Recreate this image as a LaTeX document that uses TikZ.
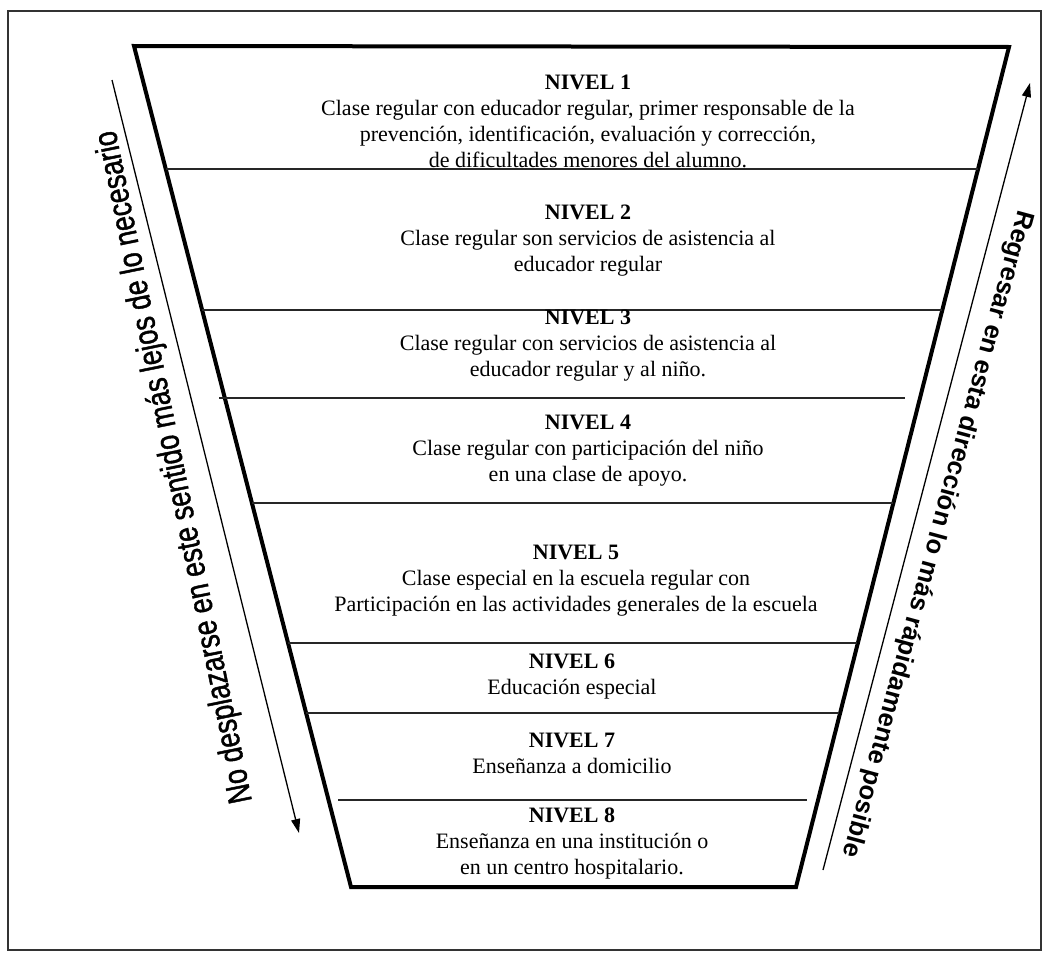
\documentclass[tikz,border=0pt]{standalone}
\usepackage{fontspec}
\setmainfont{Liberation Serif}
\newfontfamily\narrowsans[FakeStretch=0.8,FakeBold=1.2]{Liberation Sans}
\newfontfamily\plainsans{Liberation Sans}
\usetikzlibrary{arrows.meta}
\begin{document}
\begin{tikzpicture}[x=1pt,y=-1pt,
  frame/.style={line width=1.6pt, draw=black!80},
  funnel/.style={line width=4pt, line join=miter},
  sepline/.style={line width=1.5pt, draw=black!85},
  level/.style={align=center, font=\fontsize{22}{26}\selectfont, inner sep=0pt, anchor=north},
  dirarrow/.style={line width=1.3pt, -{Triangle[length=14pt,width=9pt]}},
  lefttext/.style={inner sep=0pt, font=\narrowsans\fontsize{33.5}{33.5}\selectfont},
  righttext/.style={inner sep=0pt, font=\plainsans\bfseries\fontsize{25.5}{25.5}\selectfont}]
\useasboundingbox (0,0) rectangle (1047,953);
% outer frame
\draw[frame] (8,11) rectangle (1041,950);
% funnel
\coordinate (tl) at (134,46);
\coordinate (tr) at (1009,47);
\coordinate (br) at (796,887);
\coordinate (bl) at (351,887);
\draw[funnel] (tl) -- (tr) -- (br) -- (bl) -- cycle;
% separators
\draw[sepline] (166,169) -- (978,169);
\draw[sepline] (202,310) -- (942,310);
\draw[sepline] (219,398) -- (905,398);
\draw[sepline] (252,503) -- (893,503);
\draw[sepline] (288,643) -- (857,643);
\draw[sepline] (306,713) -- (839,713);
\draw[sepline] (338,800) -- (807,800);
% levels
\node[level] (n1) at (588,75) {\textbf{NIVEL 1}\\Clase regular con educador regular, primer responsable de la\\prevención, identificación, evaluación y corrección,\\de dificultades menores del alumno.};
\node[level] (n2) at (588,205) {\textbf{NIVEL 2}\\Clase regular son servicios de asistencia al\\educador regular};
\node[level] (n3) at (588,310) {\textbf{NIVEL 3}\\Clase regular con servicios de asistencia al\\educador regular y al niño.};
\node[level] (n4) at (588,415) {\textbf{NIVEL 4}\\Clase regular con participación del niño\\en una clase de apoyo.};
\node[level] (n5) at (576,545) {\textbf{NIVEL 5}\\Clase especial en la escuela regular con\\Participación en las actividades generales de la escuela};
\node[level] (n6) at (572,654) {\textbf{NIVEL 6}\\Educación especial};
\node[level] (n7) at (572,733) {\textbf{NIVEL 7}\\Enseñanza a domicilio};
\node[level] (n8) at (572,808) {\textbf{NIVEL 8}\\Enseñanza en una institución o\\en un centro hospitalario.};
% side arrows
\coordinate (ls) at (112,80);
\coordinate (le) at (299,833);
\draw[dirarrow] (ls) -- (le);
\coordinate (rs) at (823,870);
\coordinate (re) at (1030,83);
\draw[dirarrow] (rs) -- (re);
\node[lefttext, rotate=101.5] (lt) at (175,467) {No desplazarse en este sentido más lejos de lo necesario};
\node[righttext, rotate=-105.2] (rt) at (937,534) {Regresar en esta dirección lo más rápidamente posible};
\end{tikzpicture}
\end{document}
